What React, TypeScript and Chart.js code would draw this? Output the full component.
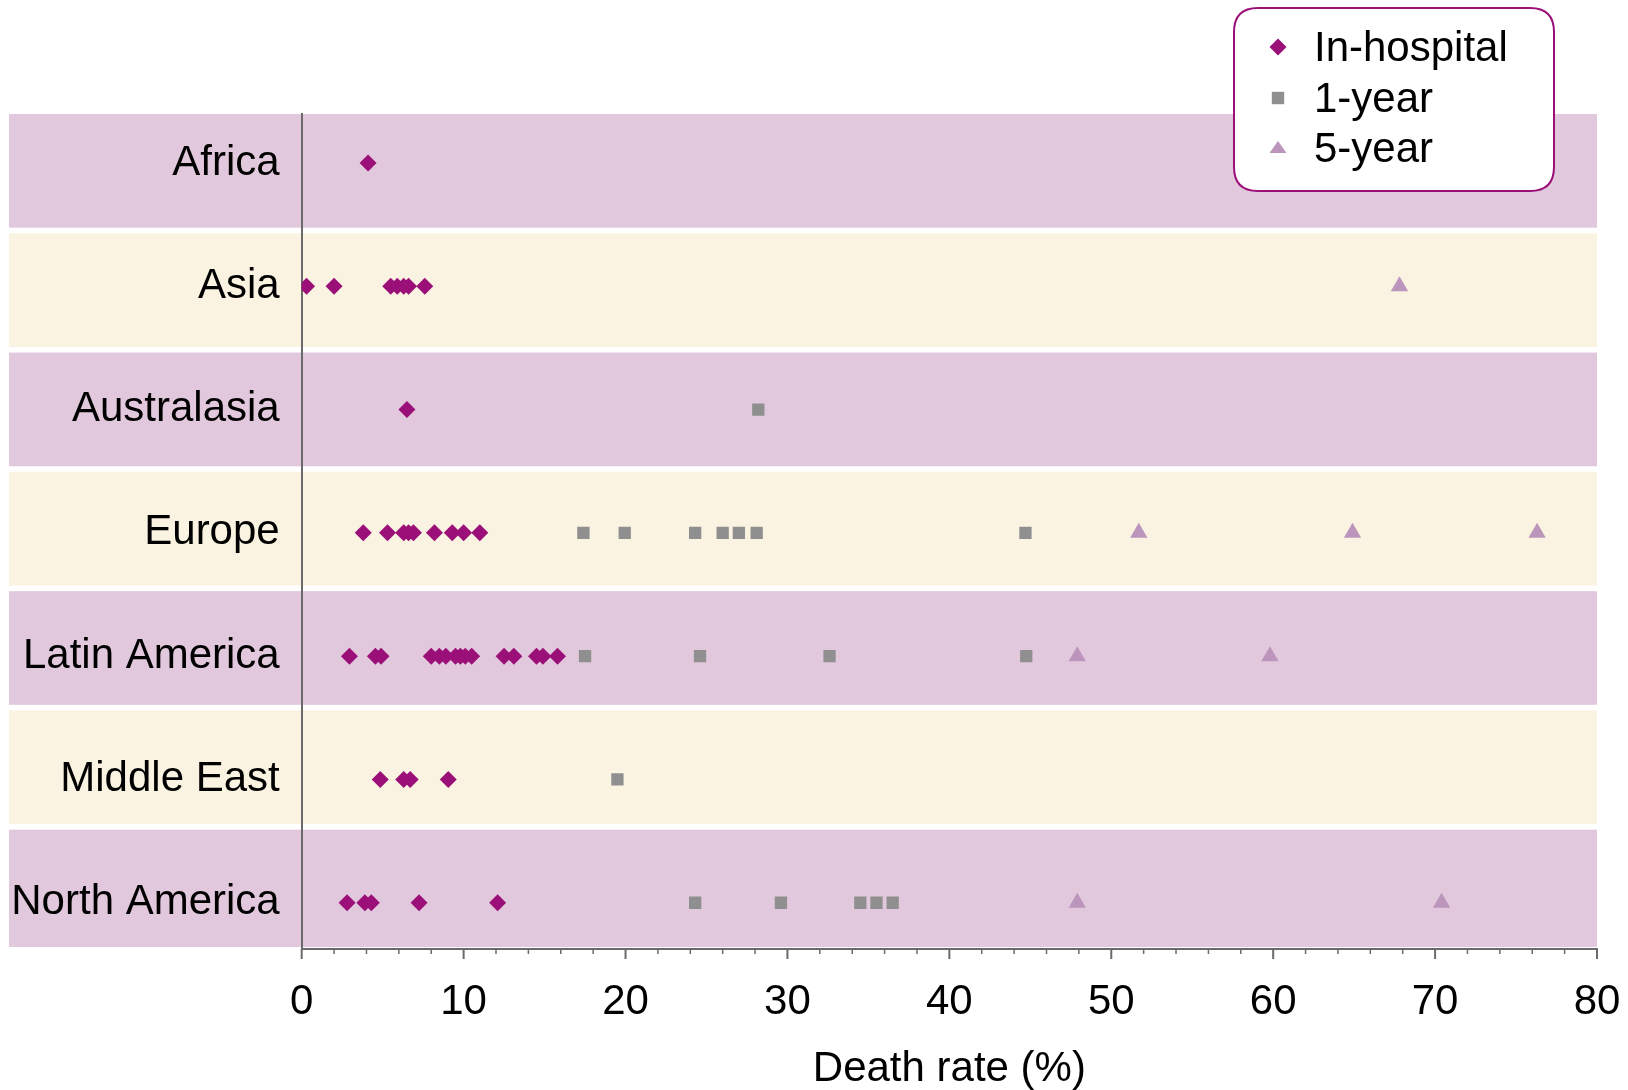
import React, { useEffect, useRef } from 'react';
import { Chart, registerables } from 'chart.js';

Chart.register(...registerables);

// ---- Data ----
const categories = ['Africa', 'Asia', 'Australasia', 'Europe', 'Latin America', 'Middle East', 'North America'];

const inHospital: number[][] = [
  [4.1],
  [0.3, 2.0, 5.5, 5.9, 6.3, 6.6, 7.6],
  [6.5],
  [3.8, 5.3, 6.3, 6.6, 6.9, 8.2, 9.3, 10.0, 11.0],
  [2.95, 4.55, 4.9, 8.0, 8.5, 8.9, 9.5, 9.8, 10.1, 10.5, 12.5, 13.1, 14.5, 14.9, 15.8],
  [4.85, 6.3, 6.7, 9.05],
  [2.8, 3.9, 4.3, 7.25, 12.1],
];

const oneYear: number[][] = [
  [],
  [],
  [28.2],
  [17.4, 19.95, 24.3, 26.0, 27.0, 28.1, 44.7],
  [17.5, 24.6, 32.6, 44.75],
  [19.5],
  [24.3, 29.6, 34.5, 35.5, 36.5],
];

const fiveYear: number[][] = [
  [],
  [67.8],
  [],
  [51.7, 64.9, 76.3],
  [47.9, 59.8],
  [],
  [47.9, 70.4],
];

const seriesLabels = ['In-hospital', '1-year', '5-year'];
const xMin = 0;
const xMax = 80;
const xMajorStep = 10;
const xMinorStep = 2;
const axisTitle = 'Death rate (%)';

// ---- Styles ----
const FONT = '"Liberation Sans", Arial, Helvetica, sans-serif';
const COL_DIAMOND = '#9b0f78';
const COL_SQUARE = '#8f8f8f';
const COL_TRIANGLE = '#bb95bb';
const BAND_PURPLE = '#e2c8dc';
const BAND_CREAM = '#fbf3e1';
const AXIS_COL = '#6a6a6a';

const toPoints = (rows: number[][]) =>
  rows.flatMap((vals, i) => vals.map((x) => ({ x, y: i })));

const bandsPlugin = {
  id: 'bands',
  beforeDraw(chart: any) {
    const { ctx, chartArea } = chart;
    const n = categories.length;
    const h = (chartArea.bottom - chartArea.top) / n;
    const gap = 5.6;
    ctx.save();
    for (let i = 0; i < n; i++) {
      const y0 = chartArea.top + i * h;
      const hh = i === n - 1 ? h - 2 : h - gap;
      ctx.fillStyle = i % 2 === 0 ? BAND_PURPLE : BAND_CREAM;
      ctx.fillRect(9, y0, chartArea.right - 9, hh);
    }
    ctx.restore();
  },
};

const ticksPlugin = {
  id: 'minorTicks',
  afterDraw(chart: any) {
    const { ctx } = chart;
    const xs = chart.scales.x;
    const yb = chart.chartArea.bottom;
    ctx.save();
    ctx.strokeStyle = AXIS_COL;
    for (let v = xMin; v <= xMax; v += xMinorStep) {
      const px = xs.getPixelForValue(v);
      const major = v % xMajorStep === 0;
      ctx.lineWidth = major ? 2 : 1.5;
      ctx.beginPath();
      ctx.moveTo(px, yb);
      ctx.lineTo(px, yb + (major ? 10 : 5));
      ctx.stroke();
    }
    ctx.restore();
  },
};

function drawMarker(ctx: CanvasRenderingContext2D, style: string, x: number, y: number) {
  ctx.beginPath();
  if (style === 'rectRot') {
    const r = 8.5;
    ctx.moveTo(x, y - r);
    ctx.lineTo(x + r, y);
    ctx.lineTo(x, y + r);
    ctx.lineTo(x - r, y);
    ctx.closePath();
    ctx.fillStyle = COL_DIAMOND;
  } else if (style === 'rect') {
    const s = 6.2;
    ctx.rect(x - s, y - s, 2 * s, 2 * s);
    ctx.fillStyle = COL_SQUARE;
  } else {
    ctx.moveTo(x, y - 7);
    ctx.lineTo(x + 8.5, y + 5);
    ctx.lineTo(x - 8.5, y + 5);
    ctx.closePath();
    ctx.fillStyle = COL_TRIANGLE;
  }
  ctx.fill();
}

const legendPlugin = {
  id: 'boxLegend',
  afterDraw(chart: any) {
    const { ctx } = chart;
    const bx = 1234, by = 8, bw = 320, bh = 183, r = 24;
    ctx.save();
    ctx.beginPath();
    ctx.moveTo(bx + r, by);
    ctx.lineTo(bx + bw - r, by);
    ctx.quadraticCurveTo(bx + bw, by, bx + bw, by + r);
    ctx.lineTo(bx + bw, by + bh - r);
    ctx.quadraticCurveTo(bx + bw, by + bh, bx + bw - r, by + bh);
    ctx.lineTo(bx + r, by + bh);
    ctx.quadraticCurveTo(bx, by + bh, bx, by + bh - r);
    ctx.lineTo(bx, by + r);
    ctx.quadraticCurveTo(bx, by, bx + r, by);
    ctx.closePath();
    ctx.fillStyle = '#ffffff';
    ctx.fill();
    ctx.lineWidth = 2;
    ctx.strokeStyle = COL_DIAMOND;
    ctx.stroke();

    const rowsY = [47, 98, 148];
    chart.data.datasets.forEach((ds: any, i: number) => {
      drawMarker(ctx, ds.pointStyle, 1278, rowsY[i]);
      ctx.fillStyle = '#000';
      ctx.font = `42px ${FONT}`;
      ctx.textAlign = 'left';
      ctx.textBaseline = 'alphabetic';
      ctx.fillText(ds.label, 1314, rowsY[i] + 14);
    });
    ctx.restore();
  },
};

export default function App() {
  const ref = useRef<HTMLCanvasElement | null>(null);

  useEffect(() => {
    if (!ref.current) return;
    const chart = new Chart(ref.current, {
      type: 'scatter',
      data: {
        datasets: [
          {
            label: seriesLabels[0],
            data: toPoints(inHospital),
            pointStyle: 'rectRot',
            pointRadius: 8.5,
            pointBackgroundColor: COL_DIAMOND,
            pointBorderWidth: 0,
            order: 1,
          },
          {
            label: seriesLabels[1],
            data: toPoints(oneYear),
            pointStyle: 'rect',
            pointRadius: 8.7,
            pointBackgroundColor: COL_SQUARE,
            pointBorderWidth: 0,
            order: 2,
          },
          {
            label: seriesLabels[2],
            data: toPoints(fiveYear),
            pointStyle: 'triangle',
            pointRadius: 10,
            pointBackgroundColor: COL_TRIANGLE,
            pointBorderWidth: 0,
            order: 3,
          },
        ] as any,
      },
      options: {
        animation: false,
        responsive: false,
        devicePixelRatio: 1,
        layout: { padding: { top: 114, right: 31, bottom: 0, left: 0 } },
        plugins: {
          legend: { display: false },
          tooltip: { enabled: false },
          title: { display: false },
        },
        scales: {
          x: {
            type: 'linear',
            min: xMin,
            max: xMax,
            grid: { display: false },
            border: { display: true, color: AXIS_COL, width: 2 },
            ticks: {
              stepSize: xMajorStep,
              color: '#000',
              font: { family: FONT, size: 42 },
              padding: 20,
              maxRotation: 0,
            },
            title: {
              display: true,
              text: axisTitle,
              color: '#000',
              font: { family: FONT, size: 42, lineHeight: 1.0 },
              padding: { top: 0, bottom: 0 },
            },
            afterFit(scale: any) {
              scale.height = 141;
              scale.paddingLeft = 0;
              scale.paddingRight = 0;
            },
          },
          y: {
            type: 'linear',
            reverse: true,
            min: -0.397,
            max: 6.375,
            grid: { display: false },
            border: { display: true, color: AXIS_COL, width: 2 },
            afterBuildTicks(scale: any) {
              scale.ticks = categories.map((_, i) => ({ value: i }));
            },
            ticks: {
              autoSkip: false,
              color: '#000',
              font: { family: FONT, size: 42 },
              padding: 14,
              callback: (v: any) => categories[v as number] ?? '',
            },
            afterFit(scale: any) {
              scale.width = 301.7;
              scale.paddingTop = 0;
              scale.paddingBottom = 0;
            },
          },
        },
      } as any,
      plugins: [bandsPlugin, ticksPlugin, legendPlugin],
    });
    return () => chart.destroy();
  }, []);

  return (
    <div style={{ position: 'absolute', left: 0, top: 0, width: 1628, height: 1090, background: '#fff' }}>
      <canvas ref={ref} width={1628} height={1090} style={{ width: 1628, height: 1090, display: 'block' }} />
    </div>
  );
}
